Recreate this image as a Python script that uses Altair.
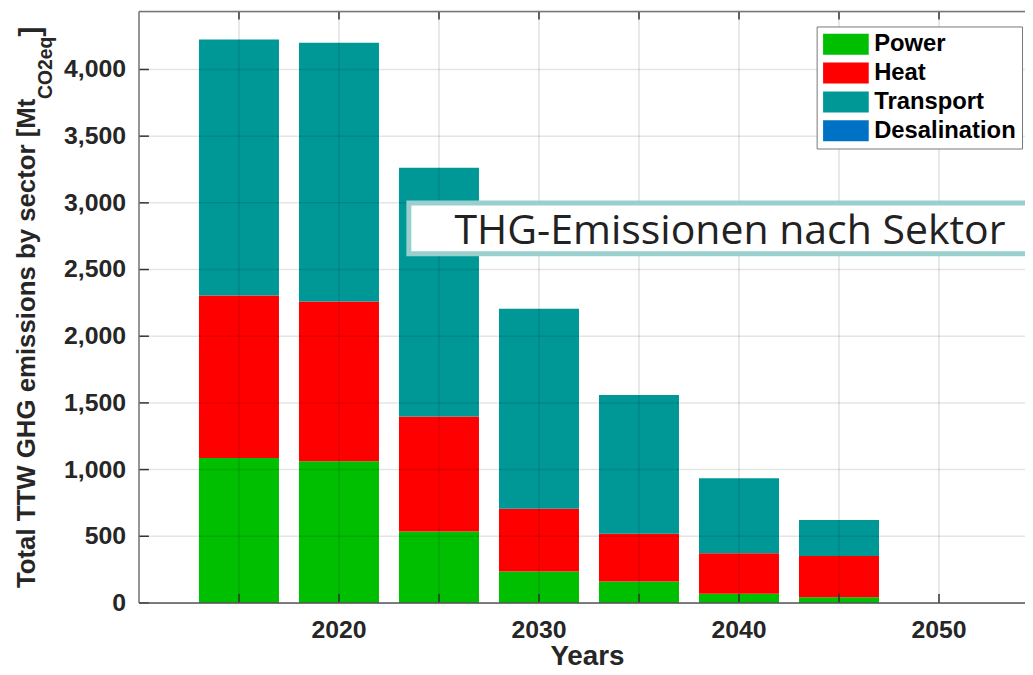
import altair as alt
import pandas as pd

# ---- data ----
years = [2015, 2020, 2025, 2030, 2035, 2040, 2045, 2050]
sectors = ["Power", "Heat", "Transport", "Desalination"]
power = [1086, 1063, 535, 236, 161, 69, 42, 0]
heat = [1219, 1198, 863, 470, 357, 303, 310, 0]
transport = [1919, 1940, 1866, 1500, 1041, 563, 270, 0]
desalination = [0, 0, 0, 0, 0, 0, 0, 0]
colors = ["#00BE00", "#FF0000", "#009797", "#0072C6"]
x_ticks = [2015, 2020, 2025, 2030, 2035, 2040, 2045, 2050]
x_label_years = [2020, 2030, 2040, 2050]
y_ticks = [0, 500, 1000, 1500, 2000, 2500, 3000, 3500, 4000]
annotation = "THG-Emissionen nach Sektor"

rows = []
for i, y in enumerate(years):
    for k, (s, vals) in enumerate(zip(sectors, [power, heat, transport, desalination])):
        rows.append({"year": y, "sector": s, "value": vals[i], "order": k})
df = pd.DataFrame(rows)

W, H = 893, 596
FONT = "Liberation Sans"
xscale = alt.Scale(domain=[2010, 2054.3], nice=False, zero=False)
yscale = alt.Scale(domain=[0, 4434], nice=False, zero=True)

bars = (
    alt.Chart(df)
    .transform_calculate(x0="datum.year - 2", x1="datum.year + 2")
    .transform_stack(stack="value", as_=["v0", "v1"], groupby=["year"],
                     sort=[alt.SortField("order", order="ascending")])
    .mark_bar(opacity=1)
    .encode(
        x=alt.X("x0:Q", scale=xscale, axis=None),
        x2="x1:Q",
        y=alt.Y("v0:Q", scale=yscale, axis=None),
        y2="v1:Q",
        color=alt.Color("sector:N", scale=alt.Scale(domain=sectors, range=colors),
                        legend=alt.Legend(orient="none", legendX=683, legendY=15, title=None,
                                          symbolType="M-1,-0.92L3,-0.92L3,0.92L-1,0.92Z",
                                          symbolSize=529, symbolStrokeWidth=0, symbolOpacity=1,
                                          labelFont=FONT, labelFontSize=24, labelFontWeight="bold",
                                          labelColor="black", padding=6, strokeColor="#777777",
                                          fillColor="white", rowPadding=5, labelOffset=28,
                                          cornerRadius=0)),
    )
)

xt_df = pd.DataFrame({"t": x_ticks})
xl_df = pd.DataFrame({"t": x_label_years})
yt_df = pd.DataFrame({"t": y_ticks})

grid_x = alt.Chart(xt_df).mark_rule(color="black", opacity=0.12, strokeWidth=1.5).encode(
    x=alt.X("t:Q", scale=xscale, axis=None), y=alt.value(0), y2=alt.value(H))
grid_y = alt.Chart(yt_df).transform_filter("datum.t > 0").mark_rule(
    color="black", opacity=0.1, strokeWidth=1.5).encode(
    y=alt.Y("t:Q", scale=yscale, axis=None), x=alt.value(0), x2=alt.value(W))

tick_bottom = alt.Chart(xt_df).mark_rule(color="#333333", strokeWidth=1.5).encode(
    x=alt.X("t:Q", scale=xscale, axis=None), y=alt.value(H), y2=alt.value(H - 9))
tick_top = alt.Chart(xt_df).mark_rule(color="#333333", strokeWidth=1.5).encode(
    x=alt.X("t:Q", scale=xscale, axis=None), y=alt.value(0), y2=alt.value(8))
tick_left = alt.Chart(yt_df).mark_rule(color="#333333", strokeWidth=1.5).encode(
    y=alt.Y("t:Q", scale=yscale, axis=None), x=alt.value(0), x2=alt.value(10))

x_labels = alt.Chart(xl_df).mark_text(
    font=FONT, fontSize=25, fontWeight="bold", color="#262626", align="center", baseline="top"
).encode(x=alt.X("t:Q", scale=xscale, axis=None), y=alt.value(H + 15),
         text=alt.Text("t:Q", format="d"))
y_labels = alt.Chart(yt_df).mark_text(
    font=FONT, fontSize=25, fontWeight="bold", color="#262626", align="right", baseline="middle"
).encode(y=alt.Y("t:Q", scale=yscale, axis=None), x=alt.value(-13),
         text=alt.Text("t:Q", format=",d"))

one = pd.DataFrame({"a": [0]})
top_border = alt.Chart(one).mark_rule(color="#777777", strokeWidth=1.5).encode(
    x=alt.value(0), x2=alt.value(W), y=alt.value(0))
left_border = alt.Chart(one).mark_rule(color="#777777", strokeWidth=1.5).encode(
    x=alt.value(0), y=alt.value(0), y2=alt.value(H))
bottom_border = alt.Chart(one).mark_rule(color="#555555", strokeWidth=1.5).encode(
    x=alt.value(0), x2=alt.value(W), y=alt.value(H))

box = alt.Chart(one).mark_rect(fill="white", stroke="#99CFCC", strokeWidth=5).encode(
    x=alt.value(272), x2=alt.value(W + 30), y=alt.value(193), y2=alt.value(244))
box_text = alt.Chart(pd.DataFrame({"t": [annotation]})).mark_text(
    font="Open Sans", fontSize=41.3, color="#222222", align="left", baseline="alphabetic"
).encode(text="t:N", x=alt.value(318), y=alt.value(234))

ytitle_main = alt.Chart(pd.DataFrame({"t": ["Total TTW GHG emissions by sector [Mt"]})).mark_text(
    font=FONT, fontSize=26, fontWeight="bold", color="#262626", angle=270,
    align="left", baseline="alphabetic").encode(text="t:N", x=alt.value(-105), y=alt.value(581))
ytitle_sub = alt.Chart(pd.DataFrame({"t": ["CO2eq"]})).mark_text(
    font=FONT, fontSize=19.5, fontWeight="bold", color="#262626", angle=270,
    align="left", baseline="alphabetic").encode(text="t:N", x=alt.value(-88), y=alt.value(88))
ytitle_end = alt.Chart(pd.DataFrame({"t": ["]"]})).mark_text(
    font=FONT, fontSize=30, fontWeight="bold", color="#262626", angle=270,
    align="left", baseline="alphabetic").encode(text="t:N", x=alt.value(-100), y=alt.value(25))
xtitle = alt.Chart(pd.DataFrame({"t": ["Years"]})).mark_text(
    font=FONT, fontSize=28, fontWeight="bold", color="#262626",
    align="center", baseline="alphabetic").encode(text="t:N", x=alt.value(452), y=alt.value(659))

chart = (
    alt.layer(bars, grid_x, grid_y, tick_bottom, tick_top, tick_left,
              top_border, left_border, bottom_border, x_labels, y_labels,
              box, box_text, ytitle_main, ytitle_sub, ytitle_end, xtitle)
    .properties(width=W, height=H,
                autosize=alt.AutoSizeParams(type="none"),
                padding={"left": 132, "top": 1, "right": 0, "bottom": 70})
    .configure_view(stroke=None)
    .configure(background="white")
)

chart.save("out.html", embed_options={"renderer": "svg", "actions": False})
